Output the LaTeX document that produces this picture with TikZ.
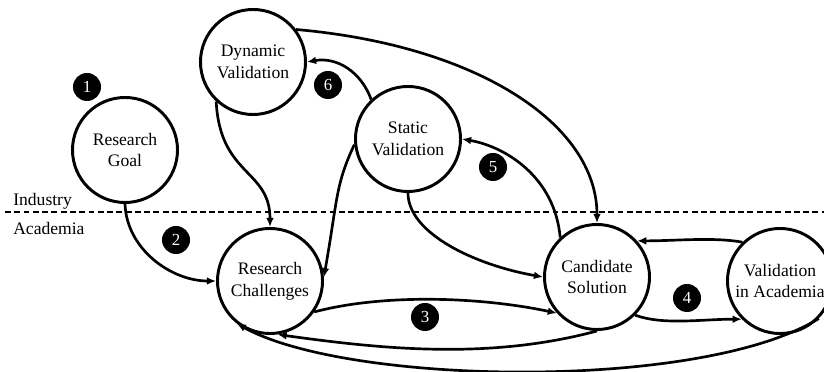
\documentclass[tikz,border=0pt]{standalone}
\usepackage{fontspec}
\setmainfont{Liberation Serif}
\usetikzlibrary{arrows.meta}
\begin{document}
\begin{tikzpicture}[x=0.025cm,y=0.025cm,
  stage/.style={circle, draw, line width=2.1pt, minimum size=2.625cm,
    inner sep=0pt, align=center, font=\fontsize{12.5}{15.5}\selectfont},
  badge/.style={circle, fill=black, text=white, minimum size=0.7cm,
    inner sep=0pt, font=\fontsize{12}{12}\selectfont},
  flow/.style={line width=1.9pt, -{Latex[length=6.5pt,width=5.5pt]}},
  region/.style={anchor=base west, inner sep=0pt, font=\fontsize{12.5}{15}\selectfont},
  border/.style={line width=0.85pt, dash pattern=on 4.2pt off 2.4pt}
]
\useasboundingbox (0,0) rectangle (824,372);

% boundary between the two domains
\coordinate (bl) at (5,160);
\coordinate (br) at (824,160);
\draw[border] (bl) -- (br);
\node[region] (ind) at (13,166) {Industry};
\node[region] (aca) at (13,137) {Academia};

% process stages
\node[stage] (RG) at (125,222) {Research\\Goal};
\node[stage] (DV) at (253,310) {Dynamic\\Validation};
\node[stage] (SV) at (408,233) {Static\\Validation};
\node[stage] (RC) at (270,91)  {Research\\Challenges};
\node[stage] (CS) at (597,95)  {Candidate\\Solution};
\node[stage] (VA) at (780,91)  {Validation\\in Academia};

% step numbers
\node[badge] (n1) at (87,285)  {1};
\node[badge] (n2) at (176,132) {2};
\node[badge] (n3) at (425,55)  {3};
\node[badge] (n4) at (687,74)  {4};
\node[badge] (n5) at (493,205) {5};
\node[badge] (n6) at (328,287) {6};

% transitions
\draw[flow] (RG.south) .. controls +(-88:45) and +(180:45) .. (RC.west);
\draw[flow] (DV.227) .. controls +(-87:75) and +(90:58) .. (RC.north);
\draw[flow] (SV.186) .. controls +(245:45) and +(80:80) .. (RC.4);
\draw[flow] (SV.133) .. controls +(110:30) and +(10:30) .. (DV.east);
\draw[flow] (DV.37) .. controls +(-5:180) and +(90:100) .. (CS.north);
\draw[flow] (SV.south) .. controls +(-90:40) and +(170:70) .. (CS.west);
\draw[flow] (CS.133) .. controls +(95:60) and +(-10:45) .. (SV.east);
\draw[flow] (RC.-35) .. controls +(15:70) and +(168:80) .. (CS.222);
\draw[flow] (CS.south) .. controls +(195:110) and +(-8:110) .. (RC.-82);
\draw[flow] (CS.-45) .. controls +(-20:30) and +(180:40) .. (VA.225);
\draw[flow] (VA.134) .. controls +(170:30) and +(0:40) .. (CS.42);
\draw[flow] (VA.-44) .. controls +(211.8:138) and +(-29:128) .. (RC.232);
\end{tikzpicture}
\end{document}
